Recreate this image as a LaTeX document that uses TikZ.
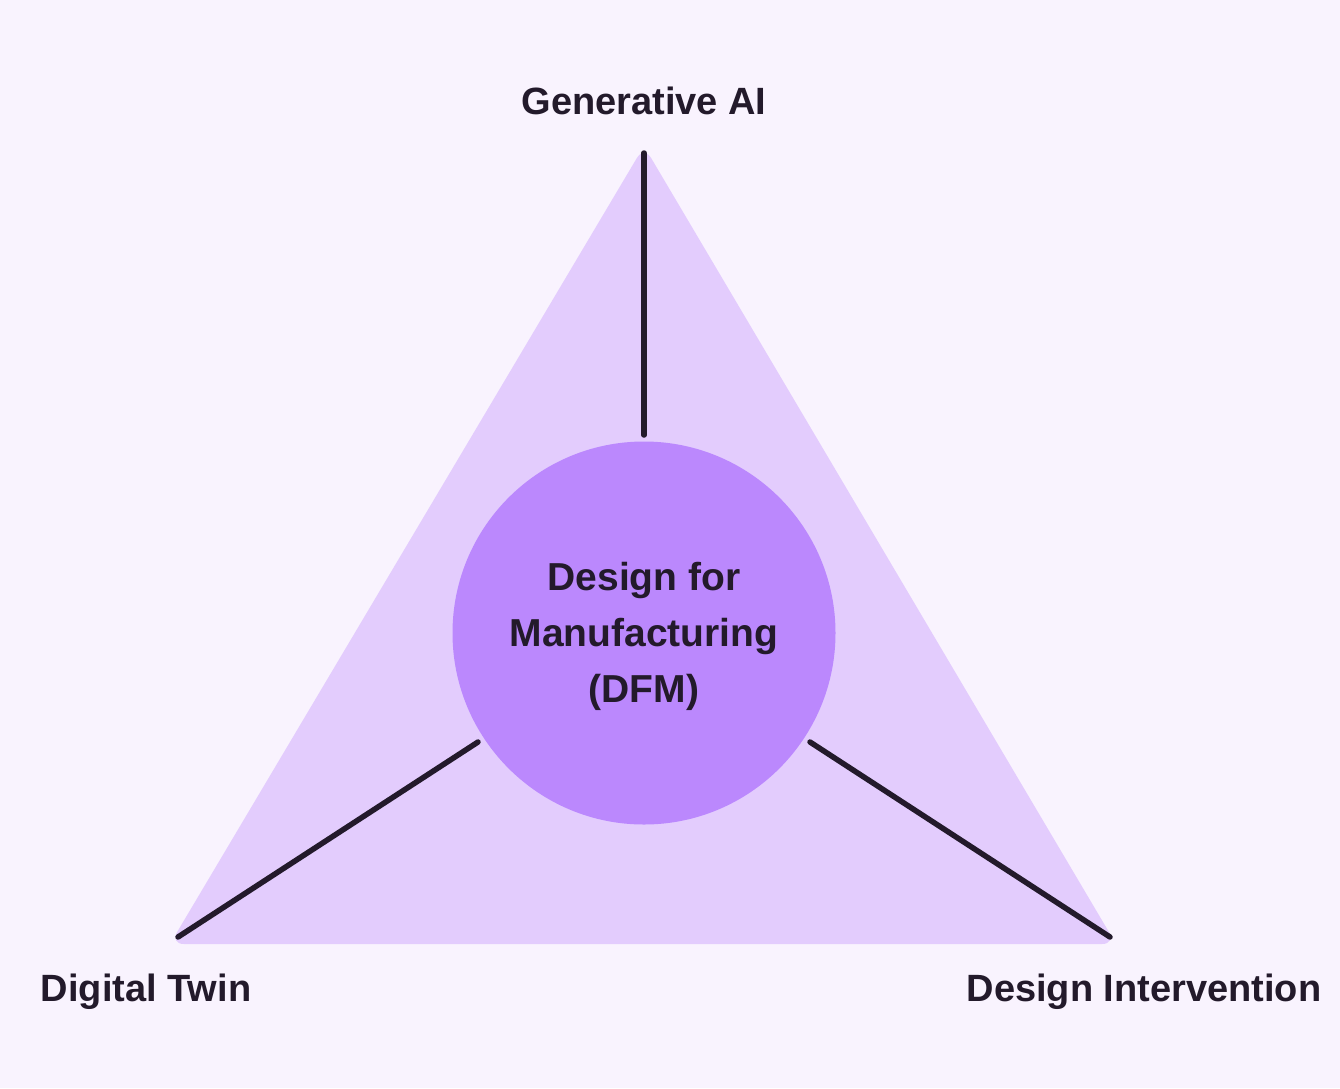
\documentclass[tikz,border=0pt]{standalone}
\usepackage{fontspec}
\setmainfont{Liberation Sans}
\definecolor{bgc}{HTML}{F9F3FE}
\definecolor{tric}{HTML}{E3CCFD}
\definecolor{circc}{HTML}{BB88FD}
\definecolor{ink}{HTML}{231A2B}
\begin{document}
\begin{tikzpicture}[x=1pt,y=-1pt,
  lbl/.style={font=\fontsize{38}{46}\selectfont\bfseries, text=ink, inner sep=0pt},
  spoke/.style={draw=ink, line width=5.5pt, line cap=round}]
\fill[bgc] (0,0) rectangle (1340,1088);
\useasboundingbox (0,0) rectangle (1340,1088);
\coordinate (A) at (644,146);
\coordinate (B) at (170,944);
\coordinate (C) at (1116,944);
\fill[tric, rounded corners=14pt] (A) -- (B) -- (C) -- cycle;
\node[circle, fill=circc, minimum size=383pt, inner sep=0pt] (hub) at (644,633) {};
\node[lbl, align=center, font=\fontsize{39}{56}\selectfont\bfseries] (hubtext) at (644,636) {Design for\\Manufacturing\\(DFM)};
\coordinate (ta) at (644,153);
\coordinate (tb) at (178,937);
\coordinate (tc) at (1110,937);
\coordinate (ha) at (644,435);
\coordinate (hb) at (478,742);
\coordinate (hc) at (810,742);
\draw[spoke] (ta) -- (ha);
\draw[spoke] (tb) -- (hb);
\draw[spoke] (tc) -- (hc);
\node[lbl] (gen) at (644,101) {Generative AI};
\node[lbl] (dt) at (146,992) {Digital Twin};
\node[lbl] (di) at (1144,992) {Design Intervention};
\end{tikzpicture}
\end{document}
